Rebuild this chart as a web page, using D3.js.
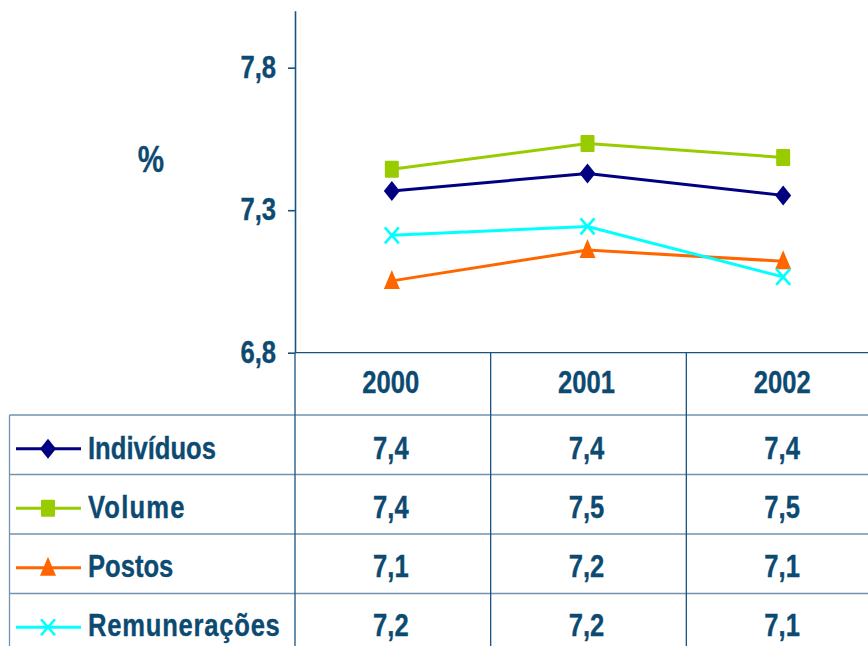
<!DOCTYPE html>
<html>
<head>
<meta charset="utf-8">
<script src="https://cdn.jsdelivr.net/npm/d3@7"></script>
<style>
  html, body { margin: 0; padding: 0; background: #ffffff; }
  svg { display: block; }
  text { font-family: "Liberation Sans", Arial, sans-serif; font-weight: bold; fill: #0d4a72;
         stroke: #0d4a72; stroke-width: 0.35px; }
</style>
</head>
<body>
<svg id="chart" width="868" height="646"></svg>
<script>
// Years on the category axis / table header
const years = ["2000", "2001", "2002"];

// Series (%), one array per row of the data table
const individuos    = [7.367, 7.429, 7.352];
const volume        = [7.444, 7.534, 7.485];
const postos        = [7.052, 7.160, 7.121];
const remuneracoes  = [7.212, 7.243, 7.066];

const seriesNames = ["Indivíduos", "Volume", "Postos", "Remunerações"];
const yTicks = [6.8, 7.3, 7.8];

const series = [
  { name: seriesNames[0], values: individuos,   color: "#000080", marker: "diamond" },
  { name: seriesNames[1], values: volume,       color: "#99cc00", marker: "square" },
  { name: seriesNames[2], values: postos,       color: "#ff6600", marker: "triangle" },
  { name: seriesNames[3], values: remuneracoes, color: "#00ffff", marker: "cross" }
];

// Looser tracking for some row captions
const captionSpacing = { "Volume": 1.5, "Remunerações": 0.95 };

const pt = d3.formatLocale({ decimal: ",", thousands: ".", grouping: [3], currency: ["", ""] });
const fmt = pt.format(".1f");

const svg = d3.select("#chart");
const W = 868;
const SX = 0.8;          // condensed lettering width factor
const FS = 32;           // font size

const plotLeft = 295, plotTop = 10.7, plotBottom = 352.7;
const tableLeft = 9.5, tableRight = 882;

const x = d3.scaleBand().domain(years).range([plotLeft, tableRight]).padding(0);
const y = d3.scaleLinear().domain([6.8, 8.0]).range([plotBottom, plotTop]);
const rows = d3.scaleBand().domain(seriesNames).range([415, 653]).padding(0);

const darkLine = "#1a5380";
const lightLine = "#6f93b1";

// ---- table grid ----
const grid = svg.append("g");
// horizontal row separators
grid.selectAll("line.row")
  .data(seriesNames)
  .join("line")
  .attr("x1", tableLeft).attr("x2", W)
  .attr("y1", d => rows(d)).attr("y2", d => rows(d))
  .attr("stroke", lightLine).attr("stroke-width", 1.3);
// column separators
grid.selectAll("line.col")
  .data(years.slice(1))
  .join("line")
  .attr("x1", d => x(d)).attr("x2", d => x(d))
  .attr("y1", plotBottom).attr("y2", 646)
  .attr("stroke", darkLine).attr("stroke-width", 1.3);
// outer left edge of the table
grid.append("line")
  .attr("x1", tableLeft).attr("x2", tableLeft)
  .attr("y1", rows(seriesNames[0])).attr("y2", 646)
  .attr("stroke", lightLine).attr("stroke-width", 1.3);
// vertical line continuing the value axis through the table
grid.append("line")
  .attr("x1", plotLeft).attr("x2", plotLeft)
  .attr("y1", plotBottom).attr("y2", 646)
  .attr("stroke", darkLine).attr("stroke-width", 1.3);
// category axis line (top of table header)
grid.append("line")
  .attr("x1", plotLeft).attr("x2", W)
  .attr("y1", plotBottom).attr("y2", plotBottom)
  .attr("stroke", darkLine).attr("stroke-width", 1.3);

// ---- value axis ----
const yAxis = svg.append("g")
  .attr("transform", `translate(${plotLeft},0)`)
  .call(d3.axisLeft(y).tickValues(yTicks).tickFormat(fmt).tickSize(7).tickSizeOuter(0));
yAxis.select(".domain").attr("stroke", darkLine).attr("stroke-width", 1.6);
yAxis.selectAll(".tick line").attr("stroke", darkLine).attr("stroke-width", 1.6);
yAxis.selectAll(".tick text")
  .attr("font-size", FS)
  .attr("font-family", null)
  .attr("fill", "#0d4a72")
  .attr("x", -19 / SX)
  .attr("dy", "0.3em")
  .attr("transform", `scale(${SX},1)`);

// "%" unit label
svg.append("text")
  .attr("transform", `translate(151,171.5) scale(${SX},1)`)
  .attr("text-anchor", "middle")
  .attr("font-size", 37)
  .text("%");

// ---- header row (years) ----
const headerMid = (plotBottom + rows(seriesNames[0])) / 2;
svg.selectAll("text.year")
  .data(years)
  .join("text")
  .attr("class", "year")
  .attr("transform", d => `translate(${x(d) + x.bandwidth() / 2 - 2},${headerMid + 9}) scale(${SX},1)`)
  .attr("text-anchor", "middle")
  .attr("font-size", FS)
  .text(d => d);

// ---- marker shapes ----
function drawMarker(g, type, color) {
  if (type === "diamond") {
    g.append("path").attr("d", "M0,-10 L8,0 L0,10 L-8,0 Z").attr("fill", color);
  } else if (type === "square") {
    g.append("rect").attr("x", -7).attr("y", -8.5).attr("width", 14).attr("height", 17)
      .attr("rx", 1).attr("fill", color);
  } else if (type === "triangle") {
    g.append("path").attr("d", "M0,-11 L8,8 L-8,8 Z").attr("fill", color);
  } else if (type === "cross") {
    g.append("path").attr("d", "M-7,-8 L7,8 M-7,8 L7,-8")
      .attr("stroke", color).attr("stroke-width", 2.6).attr("fill", "none");
  }
}

// ---- lines and markers ----
const cx = i => x(years[i]) + x.bandwidth() / 2 - 1;
const line = d3.line()
  .x((d, i) => cx(i))
  .y(d => y(d));

series.forEach(s => {
  const g = svg.append("g");
  g.append("path")
    .datum(s.values)
    .attr("d", line)
    .attr("fill", "none")
    .attr("stroke", s.color)
    .attr("stroke-width", 3);
  s.values.forEach((v, i) => {
    const m = g.append("g").attr("transform", `translate(${cx(i)},${y(v)})`);
    drawMarker(m, s.marker, s.color);
  });
});

// ---- data rows: legend key, name, values ----
series.forEach((s, k) => {
  const top = rows(s.name);
  const mid = top + rows.bandwidth() / 2;
  const base = mid + (k < 2 ? 14 : 13);
  const key = svg.append("g");
  key.append("line")
    .attr("x1", 16).attr("x2", 81)
    .attr("y1", mid + 4).attr("y2", mid + 4)
    .attr("stroke", s.color).attr("stroke-width", 3);
  const km = key.append("g").attr("transform", `translate(48,${mid + 4})`);
  drawMarker(km, s.marker, s.color);

  svg.append("text")
    .attr("transform", `translate(88,${base}) scale(${SX},1)`)
    .attr("font-size", FS)
    .attr("letter-spacing", captionSpacing[s.name] || 0)
    .text(s.name);

  svg.selectAll(null)
    .data(s.values)
    .join("text")
    .attr("transform", (d, i) => `translate(${x(years[i]) + x.bandwidth() / 2 - 2},${base}) scale(${SX},1)`)
    .attr("text-anchor", "middle")
    .attr("font-size", FS)
    .text(d => fmt(d));
});
</script>
</body>
</html>
